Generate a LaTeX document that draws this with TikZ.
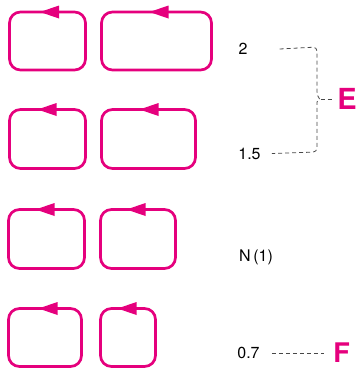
\documentclass[tikz,border=0pt]{standalone}
\usepackage{fontspec}
\setmainfont{TeX Gyre Heros}
\usepackage{xcolor}
\usetikzlibrary{arrows.meta,positioning,calc}
\definecolor{loopmag}{RGB}{229,0,125}
\newcommand{\lblsize}{\fontsize{16}{19}\selectfont}

\begin{document}
\begin{tikzpicture}[
  x=1pt, y=-1pt,
  loopbox/.style={draw=loopmag, line width=2.7pt, rounded corners=11pt,
    inner sep=0pt, outer sep=0pt},
  headl/.style={fill=loopmag},
  val/.style={inner sep=0pt, font=\lblsize},
  big/.style={inner sep=0pt, text=loopmag, font=\fontsize{29}{30}\selectfont\bfseries},
  dashline/.style={draw=black!72, line width=0.8pt, dash pattern=on 4pt off 3pt}]

\useasboundingbox (0,0) rectangle (357,370);

% ===== row 1 =====
\node[loopbox, minimum width=76pt, minimum height=58pt] (b11) at (47.5,41) {};
\node[loopbox, minimum width=110pt, minimum height=58pt] (b12) at (156.5,41) {};

% ===== row 2 =====
\node[loopbox, minimum width=76pt, minimum height=59pt] (b21) at (47.5,139) {};
\node[loopbox, minimum width=94pt, minimum height=59pt] (b22) at (148.5,139) {};

% ===== row 3 =====
\node[loopbox, minimum width=76pt, minimum height=59pt] (b31) at (46.5,239) {};
\node[loopbox, minimum width=75pt, minimum height=59pt] (b32) at (138,239) {};

% ===== row 4 =====
\node[loopbox, minimum width=73pt, minimum height=58pt] (b41) at (45,337.5) {};
\node[loopbox, minimum width=55pt, minimum height=58pt] (b42) at (128,337.5) {};

% ===== heads (top edge, pointing left) =====
\fill[headl] ([xshift=-7.5pt]b11.north) -- ++(19,-6.5) -- ++(0,13) -- cycle;
\fill[headl] ([xshift=-7pt]b12.north)   -- ++(19,-6.5) -- ++(0,13) -- cycle;
\fill[headl] ([xshift=-10pt]b21.north)  -- ++(19,-6.5) -- ++(0,13) -- cycle;
\fill[headl] ([xshift=-9pt]b22.north)   -- ++(19,-6.5) -- ++(0,13) -- cycle;
\fill[headl] ([xshift=-11pt]b31.north)  -- ++(19,-6.5) -- ++(0,13) -- cycle;
\fill[headl] ([xshift=-11.5pt]b32.north)-- ++(19,-6.5) -- ++(0,13) -- cycle;
\fill[headl] ([xshift=-6.5pt]b41.north) -- ++(19,-6.5) -- ++(0,13) -- cycle;
\fill[headl] ([xshift=-10.5pt]b42.north)-- ++(19,-6.5) -- ++(0,13) -- cycle;

% ===== values =====
\node[val] (v2)  at (243,49)    {2};
\node[val] (v15) at (249.5,153.5) {1.5};
\node[val] (vN)  at (256,257.5) {N\,(1)};
\node[val] (v07) at (248.5,353) {0.7};

\node[big] (E) at (347,99) {E};
\node[big, font=\fontsize{27}{28}\selectfont\bfseries] (F) at (341.5,353) {F};

% ===== brace + leaders =====
\coordinate (nib) at (319.5,99);
\draw[dashline, rounded corners=4pt] ([xshift=32pt]v2.east) -- (317,47) -- (317,96)
  [sharp corners] -- (nib) -- (317,102) [rounded corners=4pt] -- (317,152)
  -- ([xshift=11pt]v15.east);
\draw[dashline, shorten <=1pt, shorten >=3pt] (nib) -- (E.west);
\draw[dashline, shorten <=12pt, shorten >=9pt] (v07.east) -- (F.west);

\end{tikzpicture}
\end{document}
